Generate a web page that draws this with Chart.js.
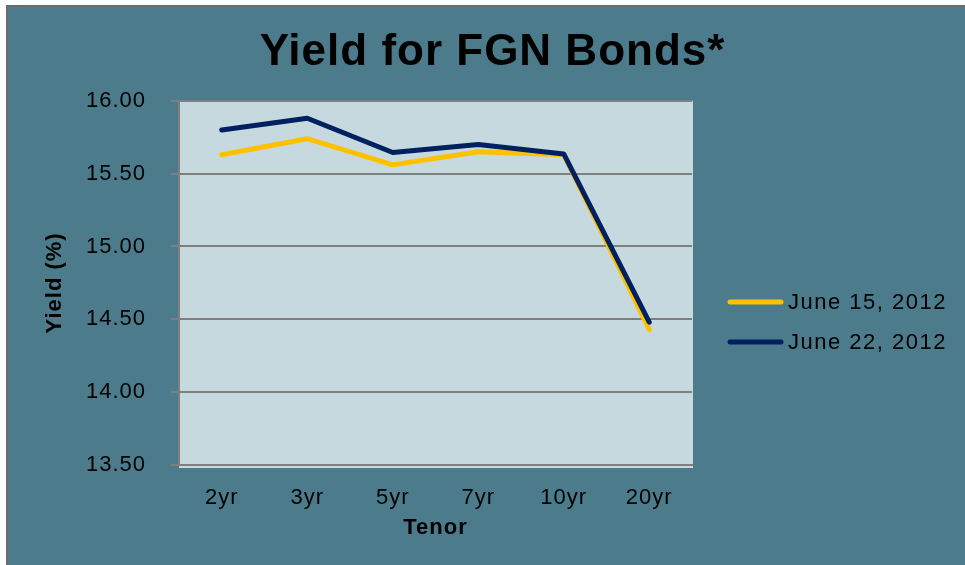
<!DOCTYPE html>
<html>
<head>
<meta charset="utf-8">
<script src="https://cdn.jsdelivr.net/npm/chart.js@4.4.0/dist/chart.umd.min.js"></script>
<style>
  html, body { margin: 0; padding: 0; background: #fff; }
  #wrap { width: 965px; height: 565px; }
</style>
</head>
<body>
<div id="wrap"><canvas id="myCanvas"></canvas></div>
<script>
// data
var tenors = ["2yr", "3yr", "5yr", "7yr", "10yr", "20yr"];
var june15 = [15.63, 15.74, 15.56, 15.65, 15.63, 14.43];
var june22 = [15.80, 15.88, 15.645, 15.70, 15.635, 14.48];
var seriesNames = ["June 15, 2012", "June 22, 2012"];
var yTicks = [13.5, 14.0, 14.5, 15.0, 15.5, 16.0];

var FONT = "'Liberation Sans', Arial, sans-serif";
var BG = "#4c7b8b";
var PLOT_BG = "#c6d9df";
var GRID = "#7f7f7f";

// frame + plot area background
var backgrounds = {
  id: "backgrounds",
  beforeLayout: function(chart){ chart.ctx.letterSpacing = "1px"; },
  beforeDraw: function(chart){
    var ctx = chart.ctx, a = chart.chartArea;
    ctx.letterSpacing = "1px";
    ctx.save();
    ctx.fillStyle = "#ffffff";
    ctx.fillRect(0, 0, chart.width, chart.height);
    ctx.fillStyle = "#6b6b6b";
    ctx.fillRect(6, 5, chart.width - 6, chart.height - 5);
    ctx.fillStyle = BG;
    ctx.fillRect(8, 7, chart.width - 8, chart.height - 7);
    ctx.fillStyle = PLOT_BG;
    ctx.fillRect(a.left, a.top, a.right - a.left + 1, a.bottom - a.top + 3);
    ctx.restore();
  }
};

// legend on the right, drawn from the datasets
var sideLegend = {
  id: "sideLegend",
  afterDraw: function(chart){
    var ctx = chart.ctx;
    ctx.save();
    chart.data.datasets.forEach(function(ds, i){
      var y = 302 + i * 40;
      ctx.strokeStyle = ds.borderColor;
      ctx.lineWidth = 5;
      ctx.lineCap = "round";
      ctx.beginPath();
      ctx.moveTo(730, y);
      ctx.lineTo(781, y);
      ctx.stroke();
      ctx.fillStyle = "#000";
      ctx.font = "22px " + FONT;
      ctx.letterSpacing = "1.5px";
      ctx.textAlign = "left";
      ctx.textBaseline = "middle";
      ctx.fillText(ds.label, 788, y + 1);
    });
    ctx.restore();
  }
};

var myChart = document.getElementById("myCanvas").getContext("2d");
var chart = new Chart(myChart, {
  type: "line",
  data: {
    labels: tenors,
    datasets: [
      {
        label: seriesNames[0],
        data: june15,
        order: 2,
        borderColor: "#ffc000",
        backgroundColor: "#ffc000",
        borderWidth: 5,
        borderCapStyle: "round",
        borderJoinStyle: "round",
        pointRadius: 0,
        tension: 0
      },
      {
        label: seriesNames[1],
        data: june22,
        order: 1,
        borderColor: "#002060",
        backgroundColor: "#002060",
        borderWidth: 5,
        borderCapStyle: "round",
        borderJoinStyle: "round",
        pointRadius: 0,
        tension: 0
      }
    ]
  },
  options: {
    responsive: true,
    maintainAspectRatio: false,
    animation: false,
    layout: { padding: { left: 20, right: 0, top: 0, bottom: 0 } },
    plugins: {
      legend: { display: false },
      tooltip: { enabled: false },
      title: {
        display: true,
        text: "Yield for FGN Bonds*",
        color: "#000",
        font: { family: FONT, size: 44, weight: "bold" },
        padding: { top: 26, bottom: 22 }
      }
    },
    scales: {
      x: {
        offset: true,
        grid: { display: false },
        border: { display: true, color: GRID, width: 2 },
        ticks: { color: "#000", font: { family: FONT, size: 22 }, padding: 12 },
        title: {
          display: true,
          text: "Tenor",
          color: "#000",
          font: { family: FONT, size: 22, weight: "bold" },
          padding: { top: 0, bottom: 24 }
        },
        afterFit: function(s){ s.height = 100; }
      },
      y: {
        min: 13.5,
        max: 16,
        afterBuildTicks: function(s){
          s.ticks = yTicks.map(function(v){ return { value: v }; });
        },
        grid: { color: GRID, lineWidth: 2, drawTicks: true, tickLength: 8, tickColor: GRID },
        border: { display: true, color: GRID, width: 2 },
        ticks: {
          color: "#000",
          font: { family: FONT, size: 22 },
          padding: 25,
          callback: function(v){ return Number(v).toFixed(2); }
        },
        title: {
          display: true,
          text: "Yield (%)",
          color: "#000",
          font: { family: FONT, size: 22, weight: "bold" },
          padding: { top: 22, bottom: 0 }
        },
        afterFit: function(s){ s.width = 159; }
      },
      pad: {
        type: "linear",
        position: "right",
        display: true,
        grid: { display: false },
        border: { display: false },
        ticks: { display: false },
        afterFit: function(s){ s.width = 273; }
      }
    }
  },
  plugins: [backgrounds, sideLegend]
});
</script>
</body>
</html>
